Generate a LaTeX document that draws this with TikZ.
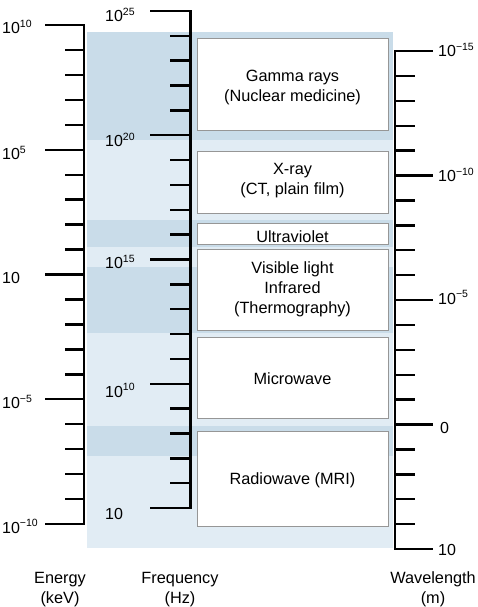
\documentclass[tikz,border=0pt]{standalone}
\usepackage{fontspec}
\setmainfont{Liberation Sans}
\definecolor{lightbg}{RGB}{225,236,244}
\definecolor{darkbg}{RGB}{201,220,233}
\definecolor{boxline}{RGB}{150,150,150}
\newcommand\pw[1]{10\raisebox{6.5pt}{\fontsize{10.5}{10}\selectfont #1}}
\begin{document}
\begin{tikzpicture}[x=1pt,y=-1pt,
  axisline/.style={line width=2.6pt, line cap=rect},
  tickline/.style={line width=2.4pt},
  specbox/.style={draw=boxline, line width=0.9pt, fill=white, minimum width=191pt, inner sep=0pt},
  txt/.style={font=\fontsize{16.3}{20}\selectfont, align=center, inner sep=0pt},
  ticklab/.style={font=\fontsize{16}{20}\selectfont, inner sep=0pt, anchor=base west}]
\useasboundingbox (0,0) rectangle (478,607);
% background
\fill[lightbg] (87,32) rectangle (393,548);
\fill[darkbg] (87,32) rectangle (393,140);
\fill[darkbg] (87,220) rectangle (393,247);
\fill[darkbg] (87,267) rectangle (393,333);
\fill[darkbg] (87,426) rectangle (393,456);
% boxes
\node[specbox, minimum height=92pt] (gamma) at (292.5,84) {};
\node[txt] (gammat) at (292.5,87) {Gamma rays\\(Nuclear medicine)};
\node[specbox, minimum height=62pt] (xray) at (292.5,182) {};
\node[txt] (xrayt) at (292.5,181) {X-ray\\(CT, plain film)};
\node[specbox, minimum height=21pt] (uv) at (292.5,233.5) {};
\node[txt] (uvt) at (292.5,237) {Ultraviolet};
\node[specbox, minimum height=81pt] (vis) at (292.5,289.5) {};
\node[txt] (vist) at (292.5,289) {Visible light\\Infrared\\(Thermography)};
\node[specbox, minimum height=81pt] (micro) at (292.5,377.5) {};
\node[txt] (microt) at (292.5,378.5) {Microwave};
\node[specbox, minimum height=95pt] (radio) at (292.5,478.5) {};
\node[txt] (radiot) at (292.5,480) {Radiowave (MRI)};
% energy axis
\draw[axisline] (84,25) -- (84,524);
\foreach \i in {0,...,20}{
  \pgfmathsetmacro\yy{25+\i*24.95}
  \pgfmathsetmacro\xx{mod(\i,5)==0 ? 45 : 65}
  \draw[tickline] (\xx,\yy) -- (84,\yy);
}
\node[ticklab] (e1) at (2,34) {\pw{10}};
\node[ticklab] (e2) at (2,159.5) {\pw{5}};
\node[ticklab] (e3) at (2,283) {10};
\node[ticklab] (e4) at (2,408.5) {\pw{−5}};
\node[ticklab] (e5) at (2,533) {\pw{−10}};
% frequency axis
\draw[axisline] (190.5,11) -- (190.5,508);
\foreach \i in {0,...,20}{
  \pgfmathsetmacro\yy{11+\i*24.85}
  \pgfmathsetmacro\xx{mod(\i,5)==0 ? 150 : 170}
  \draw[tickline] (\xx,\yy) -- (190.5,\yy);
}
\node[ticklab] (f1) at (105,22) {\pw{25}};
\node[ticklab] (f2) at (105,146.5) {\pw{20}};
\node[ticklab] (f3) at (105,268.5) {\pw{15}};
\node[ticklab] (f4) at (105,397) {\pw{10}};
\node[ticklab] (f5) at (105,519) {10};
% wavelength axis
\draw[axisline] (395,51) -- (395,549);
\foreach \i in {0,...,20}{
  \pgfmathsetmacro\yy{51+\i*24.9}
  \pgfmathsetmacro\xx{mod(\i,5)==0 ? 433 : 415}
  \draw[tickline] (395,\yy) -- (\xx,\yy);
}
\node[ticklab] (w1) at (438,57) {\pw{−15}};
\node[ticklab] (w2) at (438,181.5) {\pw{−10}};
\node[ticklab] (w3) at (438,304) {\pw{−5}};
\node[ticklab] (w4) at (440,433) {0};
\node[ticklab] (w5) at (438,555) {10};
% axis titles
\node[txt, anchor=base] (et) at (60,603) {Energy\\(keV)};
\node[txt, anchor=base] (ft) at (180,603) {Frequency\\(Hz)};
\node[txt, anchor=base] (wt) at (433,603) {Wavelength\\(m)};
\end{tikzpicture}
\end{document}
